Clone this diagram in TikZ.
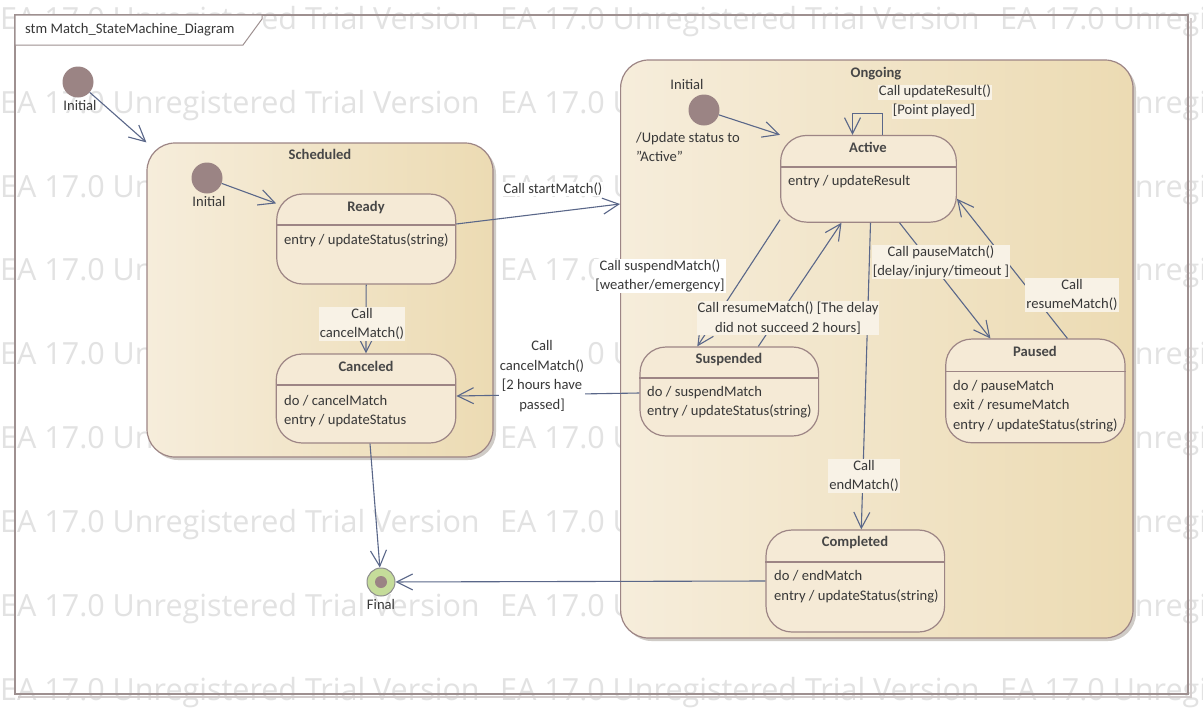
\documentclass[tikz,border=0pt]{standalone}
\usepackage{fontspec}
\setmainfont{Carlito}
\newfontfamily\wmfont{Open Sans}
\usetikzlibrary{arrows.meta,calc}
\definecolor{frameC}{HTML}{9E9090}
\definecolor{frameSh}{HTML}{D2CCCC}
\definecolor{stateBd}{HTML}{9D8585}
\definecolor{stateFill}{HTML}{F5EAD6}
\definecolor{compL}{HTML}{F6EDDB}
\definecolor{compR}{HTML}{ECDBB3}
\definecolor{compSh}{HTML}{CFCBC6}
\definecolor{connC}{HTML}{5A6789}
\definecolor{txtC}{HTML}{383838}
\definecolor{ttlC}{HTML}{474747}
\definecolor{initC}{HTML}{9B8484}
\definecolor{finalG}{HTML}{C5DC9A}
\definecolor{finalBd}{HTML}{8E8E8E}
\definecolor{wmC}{HTML}{E2E2E2}
\definecolor{lblIn}{HTML}{F8F2E6}
\begin{document}
\begin{tikzpicture}[x=1pt,y=-1pt,
  wm/.style={font=\wmfont\fontsize{30.5}{30.5}\selectfont, text=wmC, anchor=west, inner sep=0pt},
  base/.style={font=\fontsize{14.6}{19.5}\selectfont, text=txtC, inner sep=0pt},
  txt/.style={base, text height=10pt, text depth=3pt},
  ttl/.style={font=\fontsize{14.6}{17}\selectfont\bfseries, text=ttlC, inner sep=0pt, text height=10pt, text depth=3pt},
  act/.style={txt, anchor=west},
  lblW/.style={base, fill=white, inner sep=1pt, align=center},
  lblC/.style={base, fill=lblIn, inner sep=1pt, align=center},
  comp/.style={draw=stateBd, line width=1.2pt, rounded corners=28pt, left color=compL, right color=compR, inner sep=0pt},
  stbox/.style={draw=stateBd, line width=1.2pt, rounded corners=26pt, fill=stateFill, inner sep=0pt},
  sdiv/.style={draw=stateBd, line width=1.2pt},
  initst/.style={circle, fill=initC, minimum size=31pt, inner sep=0pt},
  conn/.style={draw=connC, line width=1.1pt, -{Straight Barb[length=16pt,width=16pt]}}
]
\useasboundingbox (0,0) rectangle (1203,710);
\fill[white] (0,0) rectangle (1203,710);
% watermark
\foreach \r [count=\i] in {22,106,190,273,357,441,525,609,693} {
  \foreach \c [count=\j] in {0,500,1000} {
    \node[wm] (wm\i-\j) at (\c,\r) {EA 17.0 Unregistered Trial Version};
  }
}
% frame
\draw[frameSh, line width=1.8pt] (1191,18) -- (1191,697) -- (18,697);
\draw[frameC, line width=1.2pt] (15,15) rectangle (1188,694);
\draw[frameC, line width=1pt, fill=white] (15,15) -- (262,15) -- (262,19) -- (243,45) -- (15,45) -- cycle;
\node[txt, anchor=west] (frameLabel) at (25,30) {stm Match\_StateMachine\_Diagram};

% composite states
\fill[compSh, rounded corners=28pt] (150,146) rectangle (496,460);
\node[comp, minimum width=346pt, minimum height=314pt] (Scheduled) at (320,300) {};
\node[ttl] (tScheduled) at (320,156) {Scheduled};
\fill[compSh, rounded corners=28pt] (623.6,63) rectangle (1136,641);
\node[comp, minimum width=512.4pt, minimum height=578pt] (Ongoing) at (876.8,349) {};
\node[ttl] (tOngoing) at (876,74) {Ongoing};

% pseudo states
\node[initst] (Init0) at (78,82) {};
\node[txt] (lInit0) at (80,107) {Initial};
\node[initst] (InitS) at (207,178) {};
\node[txt] (lInitS) at (209,203) {Initial};
\node[initst] (InitO) at (704,110) {};
\node[txt] (lInitO) at (687,86) {Initial};
\node[circle, draw=finalBd, line width=1pt, fill=finalG, minimum size=28pt, inner sep=0pt] (Final) at (381,582) {};
\node[circle, fill=initC, minimum size=12pt, inner sep=0pt] (FinalDot) at (381,582) {};
\node[txt] (lFinal) at (381,606) {Final};

% states
\node[stbox, minimum width=179pt, minimum height=90pt] (Ready) at (366.2,239) {};
\draw[sdiv] (Ready.west |- 0,225) -- (Ready.east |- 0,225);
\node[ttl] (tReady) at (366,208) {Ready};
\node[act] (aReady1) at (284,241) {entry / updateStatus(string)};

\node[stbox, minimum width=179.6pt, minimum height=89pt] (Canceled) at (366,398.5) {};
\draw[sdiv] (Canceled.west |- 0,385) -- (Canceled.east |- 0,385);
\node[ttl] (tCanceled) at (366,368) {Canceled};
\node[act] (aCanceled1) at (284,402) {do / cancelMatch};
\node[act] (aCanceled2) at (284,421) {entry / updateStatus};

\node[stbox, minimum width=175.7pt, minimum height=86.7pt] (Active) at (868.5,178.8) {};
\draw[sdiv] (Active.west |- 0,167) -- (Active.east |- 0,167);
\node[ttl] (tActive) at (868,149) {Active};
\node[act] (aActive1) at (788,182) {entry / updateResult};

\node[stbox, minimum width=178.6pt, minimum height=89pt] (Suspended) at (729.3,391.5) {};
\draw[sdiv] (Suspended.west |- 0,378) -- (Suspended.east |- 0,378);
\node[ttl] (tSuspended) at (729,360) {Suspended};
\node[act] (aSusp1) at (647,393) {do / suspendMatch};
\node[act] (aSusp2) at (647,412) {entry / updateStatus(string)};

\node[stbox, minimum width=179.3pt, minimum height=103.7pt] (Paused) at (1035.4,390.9) {};
\draw[sdiv] (Paused.west |- 0,371.7) -- (Paused.east |- 0,371.7);
\node[ttl] (tPaused) at (1035,353) {Paused};
\node[act] (aPaused1) at (953,386.7) {do / pauseMatch};
\node[act] (aPaused2) at (953,405.7) {exit / resumeMatch};
\node[act] (aPaused3) at (953,426) {entry / updateStatus(string)};

\node[stbox, minimum width=178.6pt, minimum height=102pt] (Completed) at (855.3,581) {};
\draw[sdiv] (Completed.west |- 0,562) -- (Completed.east |- 0,562);
\node[ttl] (tCompleted) at (855,543) {Completed};
\node[act] (aComp1) at (774,577) {do / endMatch};
\node[act] (aComp2) at (774,597) {entry / updateStatus(string)};

% connectors
\draw[conn] (Init0) -- (Scheduled.north west);
\draw[conn] (InitS) -- ([yshift=-10pt]Ready.north west);
\draw[conn] (Ready.south) -- (Canceled.north);
\draw[conn] ([xshift=4pt]Canceled.south) -- (Final);
\draw[conn] ([yshift=15pt]Ready.east) -- ([yshift=145pt]Ongoing.west);
\draw[conn] ([yshift=-1.5pt]Suspended.west) -- ([yshift=2.5pt]Canceled.east);
\draw[conn] (InitO) -- (Active.north west);
\draw[conn] ([xshift=14pt]Active.north) -- ++(0,-21) -- ++(-30,0) -- ++(0,21);
\draw[conn] ([yshift=3pt]Active.south west) -- ([xshift=-32pt]Suspended.north);
\draw[conn] ([xshift=29pt]Suspended.north) -- ([xshift=-27pt]Active.south);
\draw[conn] ([xshift=2pt]Active.south) -- ([xshift=6pt]Completed.north);
\draw[conn] ([xshift=31pt]Active.south) -- ([xshift=-45pt]Paused.north);
\draw[conn] ([xshift=32pt]Paused.north) -- ([yshift=-20pt]Active.east);
\draw[conn] (Completed.west) -- (Final);

% labels
\node[lblC] (lCancelA) at (362,324) {Call\\cancelMatch()};
\node[lblW] (lStart) at (553,189) {Call startMatch()};
\node[lblW] (lCancelB) at (542,376) {Call\\cancelMatch()\\{[2 hours have}\\passed]};
\node[base, anchor=west, align=left] (lUpd) at (636,147) {/Update status to\\\symbol{34}Active\symbol{34}};
\node[lblC, text height=10pt, text depth=3pt] (lSelf1) at (935,92) {Call updateResult()};
\node[lblC, text height=10pt, text depth=3pt] (lSelf2) at (934,111) {[Point played]};
\node[lblW] (lSusp) at (660,276) {Call suspendMatch()\\{[weather/emergency]}};
\node[lblC] (lResume) at (788,318) {Call resumeMatch() [The delay\\did not succeed 2 hours]};
\node[lblC] (lPause) at (941,262) {Call pauseMatch()\\{[delay/injury/timeout ]}};
\node[lblC] (lResumeP) at (1072,295) {Call\\resumeMatch()};
\node[lblC] (lEnd) at (864,476) {Call\\endMatch()};
\end{tikzpicture}
\end{document}
